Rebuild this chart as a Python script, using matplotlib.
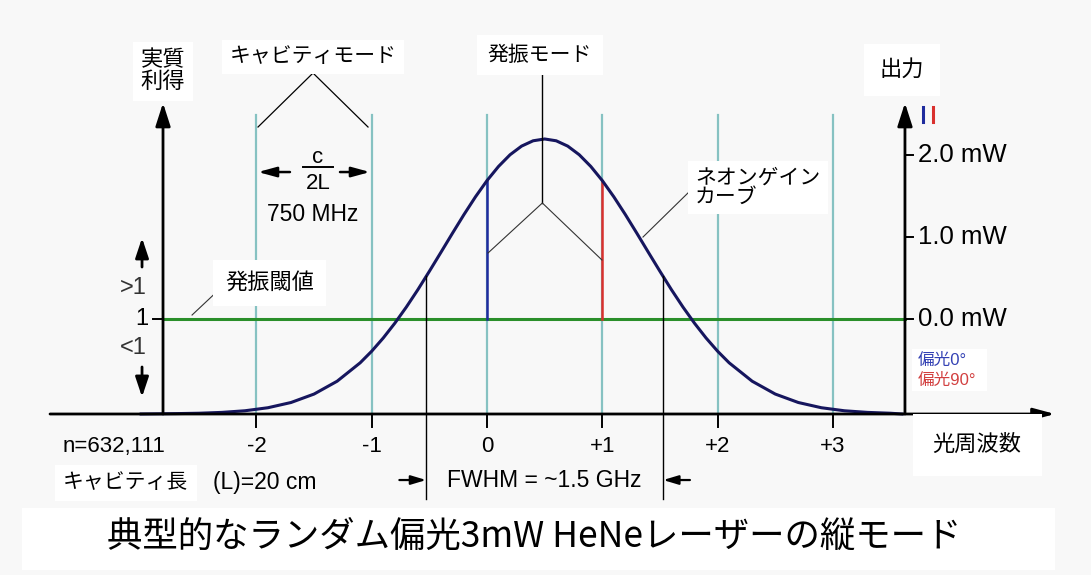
import numpy as np
import matplotlib.pyplot as plt

plt.rcParams['font.family'] = ['Liberation Sans', 'Noto Sans CJK JP']

# cavity modes, numbered from the lasing mode 0 (spacing c/2L = 750 MHz)
modes = [-2, -1, 0, 1, 2, 3]
mode_labels = ['-2', '-1', '0', '+1', '+2', '+3']

# neon gain curve
# x: frequency in mode spacings, y: gain relative to the lasing threshold (= 1)
gain_x = [-3.0, -2.7, -2.5, -2.3, -2.1, -1.9, -1.7, -1.5, -1.3, -1.1,
          -1.0, -0.9, -0.8, -0.7, -0.6, -0.5, -0.4, -0.3, -0.2, -0.1,
          0.0, 0.1, 0.2, 0.3, 0.4, 0.5, 0.6, 0.7, 0.8, 0.9,
          1.0, 1.1, 1.2, 1.3, 1.4, 1.5, 1.6, 1.7, 1.8, 1.9,
          2.0, 2.1, 2.3, 2.5, 2.7, 2.9, 3.1, 3.3, 3.5, 3.6]
gain_y = [0.0, 0.004, 0.008, 0.017, 0.034, 0.066, 0.121, 0.210, 0.345, 0.539,
          0.661, 0.800, 0.955, 1.125, 1.308, 1.502, 1.701, 1.902, 2.099, 2.286,
          2.457, 2.606, 2.729, 2.820, 2.876, 2.895, 2.876, 2.820, 2.729, 2.606,
          2.457, 2.286, 2.099, 1.902, 1.701, 1.502, 1.308, 1.125, 0.955, 0.800,
          0.661, 0.539, 0.345, 0.210, 0.121, 0.066, 0.034, 0.017, 0.008, 0.0]

threshold = 1.0
fwhm_edges = [-0.5275, 1.5275]   # half-maximum points (~1.5 GHz apart)
half_max = 1.45

# the two lasing modes (orthogonal polarisations)
lasing_modes = [0, 1]
lasing_gain = [2.457, 2.457]
lasing_colors = ['#1f2c9e', '#d9302e']
lasing_names = ['偏光0°', '偏光90°']

# output power scale on the right, 0 mW at threshold
power_ticks = [0.0, 1.0, 2.0]
power_labels = ['0.0 mW', '1.0 mW', '2.0 mW']
gain_per_mw = 0.863

teal = '#86c2c2'
green = '#2a8f2a'
navy = '#16165e'
box = dict(boxstyle='square,pad=0.35', fc='white', ec='none')


def arrow(ax, tail, tip, lw=2.0, hl=1.3, hw=0.35, ms=10):
    ax.annotate('', xy=tip, xytext=tail, zorder=6,
                arrowprops=dict(arrowstyle=f'-|>,head_length={hl},head_width={hw}',
                                color='black', lw=lw, shrinkA=0, shrinkB=0,
                                mutation_scale=ms))


fig = plt.figure(figsize=(10.91, 5.75), dpi=100, facecolor='#f8f8f8')
ax = fig.add_axes([0, 0, 1, 1])
ax.set_facecolor('#f8f8f8')
ax.set_xlim(-4.2238, 5.2385)
ax.set_ylim(-1.6947, 4.3579)
ax.axis('off')

left_x, right_x, axis_top = -2.81, 3.625, 3.274

# cavity modes and their ticks
for m, lab in zip(modes, mode_labels):
    ax.plot([m, m], [0, 3.147], color=teal, lw=1.6, zorder=1)
    ax.plot([m, m], [0, -0.137], color='black', lw=1.4, zorder=5)
    ax.text(m, -0.347, lab, ha='center', va='center', fontsize=16, zorder=7)

# threshold line
ax.plot([left_x, right_x], [threshold, threshold], color=green, lw=2.2, zorder=2)

# lasing modes above threshold
for m, g, c in zip(lasing_modes, lasing_gain, lasing_colors):
    ax.plot([m, m], [threshold, g], color=c, lw=1.8, zorder=3)

# gain curve
ax.plot(gain_x, gain_y, color=navy, lw=2.2, zorder=4, solid_joinstyle='round')

# FWHM markers
for e in fwhm_edges:
    ax.plot([e, e], [half_max, -0.895], color='black', lw=1.0, zorder=5)
ax.text(0.5, -0.695, 'FWHM = ~1.5 GHz', ha='center', va='center', fontsize=16.5, zorder=7)
arrow(ax, (-0.76, -0.695), (fwhm_edges[0], -0.695), lw=1.6, hl=1.0, hw=0.3, ms=9)
arrow(ax, (1.76, -0.695), (fwhm_edges[1], -0.695), lw=1.6, hl=1.0, hw=0.3, ms=9)

# axes drawn as arrows
arrow(ax, (-3.79, 0), (4.926, 0), lw=2.0)
arrow(ax, (left_x, 0), (left_x, axis_top), lw=2.0, hl=1.4, hw=0.45)
arrow(ax, (right_x, 0), (right_x, axis_top), lw=2.0, hl=1.4, hw=0.45)

# left gain scale
ax.plot([-2.897, left_x], [threshold, threshold], color='black', lw=1.4, zorder=5)
ax.text(-2.992, threshold, '1', ha='center', va='center', fontsize=17, zorder=7)
ax.text(-3.07, 1.326, '>1', ha='center', va='center', fontsize=17, color='#333333', zorder=7)
ax.text(-3.07, 0.695, '<1', ha='center', va='center', fontsize=17, color='#333333', zorder=7)
arrow(ax, (-2.992, 1.547), (-2.992, 1.853), lw=2.0, hl=1.2, hw=0.4)
arrow(ax, (-2.992, 0.495), (-2.992, 0.179), lw=2.0, hl=1.2, hw=0.4)

# right power scale
for p, lab in zip(power_ticks, power_labels):
    g = threshold + p * gain_per_mw
    ax.plot([right_x, 3.694], [g, g], color='black', lw=1.4, zorder=5)
    ax.text(3.738, g, lab, ha='left', va='center', fontsize=18.5, zorder=7)
for xm, c in zip([3.78, 3.87], lasing_colors):
    ax.plot([xm, xm], [3.074, 3.232], color=c, lw=2.2, zorder=5)
ax.text(3.73, 0.463, ' ' * 14 + '\n' + ' ' * 14, ha='left', va='center', fontsize=12,
        bbox=dict(boxstyle='square,pad=0.3', fc='white', ec='none'), zorder=6)
ax.text(3.738, 0.568, lasing_names[0], ha='left', va='center', fontsize=12,
        color='#3442b4', zorder=7)
ax.text(3.738, 0.358, lasing_names[1], ha='left', va='center', fontsize=12,
        color='#d24040', zorder=7)

# axis titles
ax.text(left_x, 3.605, '実質\n利得', ha='center', va='center', fontsize=16,
        linespacing=1.1, bbox=box, zorder=7)
ax.text(3.6, 3.621, '出力', ha='center', va='center', fontsize=16,
        bbox=dict(boxstyle='square,pad=0.7', fc='white', ec='none'), zorder=7)
ax.text(4.25, -0.326, '光周波数', ha='center', va='center', fontsize=16,
        bbox=dict(boxstyle='square,pad=0.9', fc='white', ec='none'), zorder=7)

# cavity mode annotation
ax.text(-1.509, 3.758, 'キャビティモード', ha='center', va='center', fontsize=15,
        bbox=box, zorder=7)
ax.plot([-1.986, -1.509, -1.032], [3.021, 3.589, 3.021], color='black', lw=0.9, zorder=5)
arrow(ax, (-1.709, 2.547), (-1.986, 2.547), lw=1.8, hl=1.1, hw=0.3, ms=10)
arrow(ax, (-1.275, 2.547), (-1.015, 2.547), lw=1.8, hl=1.1, hw=0.3, ms=10)
ax.text(-1.466, 2.70, 'c', ha='center', va='center', fontsize=16, zorder=7)
ax.plot([-1.60, -1.34], [2.60, 2.60], color='black', lw=1.4, zorder=5)
ax.text(-1.466, 2.43, '2L', ha='center', va='center', fontsize=16, zorder=7)
ax.text(-1.509, 2.095, '750 MHz', ha='center', va='center', fontsize=16.5, zorder=7)

# lasing mode annotation
ax.text(0.46, 3.779, '発振モード', ha='center', va='center', fontsize=15,
        bbox=dict(boxstyle='square,pad=0.5', fc='white', ec='none'), zorder=7)
ax.plot([0.48, 0.48], [3.568, 2.221], color='black', lw=1.0, zorder=5)
ax.plot([0.009, 0.48, 0.997], [1.695, 2.221, 1.621], color='#333333', lw=0.8, zorder=5)

# threshold annotation
ax.text(-2.272, 1.379, '発振閾値', ha='left', va='center', fontsize=16,
        bbox=dict(boxstyle='square,pad=0.55', fc='white', ec='none'), zorder=7)
ax.plot([-2.281, -2.558], [1.358, 1.042], color='#333333', lw=0.8, zorder=5)

# gain curve annotation
ax.text(1.804, 2.384, 'ネオンゲイン\nカーブ', ha='left', va='center', fontsize=15,
        linespacing=1.05, bbox=box, zorder=7)
ax.plot([1.787, 1.353], [2.379, 1.863], color='#333333', lw=0.8, zorder=5)

# tube data
ax.text(-3.677, -0.347, 'n=632,111', ha='left', va='center', fontsize=16, zorder=7)
ax.text(-3.677, -0.726, 'キャビティ長', ha='left', va='center', fontsize=15,
        bbox=dict(boxstyle='square,pad=0.4', fc='white', ec='none'), zorder=7)
ax.text(-2.376, -0.726, '(L)=20 cm', ha='left', va='center', fontsize=16.5, zorder=7)

# caption
fig.patches.append(plt.Rectangle((22 / 1091, 5 / 575), 1033 / 1091, 62 / 575,
                                 transform=fig.transFigure, fc='white', ec='none', zorder=0))
fig.text(534 / 1091, 1 - 537 / 575, '典型的なランダム偏光3mW HeNeレーザーの縦モード',
         ha='center', va='center', fontsize=25.5, family='Noto Sans CJK JP', zorder=8)

fig.savefig('out.png', dpi=100, facecolor=fig.get_facecolor())
